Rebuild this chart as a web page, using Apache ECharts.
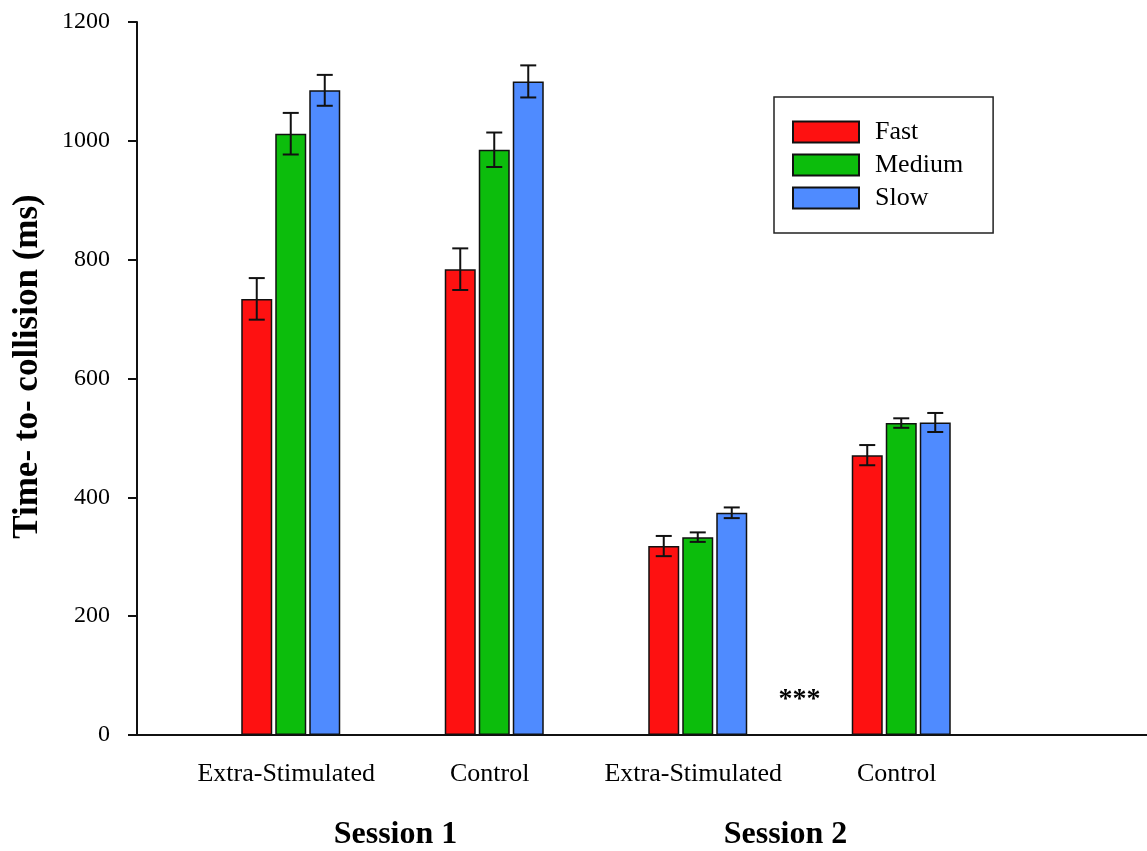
<!DOCTYPE html>
<html>
<head>
<meta charset="utf-8">
<title>Time-to-collision by session</title>
<script src="https://cdn.jsdelivr.net/npm/echarts@6/dist/echarts.min.js"></script>
<style>
  html, body { margin: 0; padding: 0; background: #fff; }
  #chart { width: 1147px; height: 851px; }
</style>
</head>
<body>
<div id="chart"></div>
<script>
// Groups along the x axis and the sessions they belong to
const categories = ['Extra-Stimulated', 'Control', 'Extra-Stimulated', 'Control'];
const sessions = ['Session 1', 'Session 2'];

// Mean time-to-collision (ms) and error (ms) per speed condition
const fast = [734, 784, 318, 471];
const fastErr = [35, 35, 17, 17];
const medium = [1012, 985, 333, 525];
const mediumErr = [35, 29, 8, 8];
const slow = [1085, 1100, 374, 526];
const slowErr = [26, 27, 9, 16];

const seriesNames = ['Fast', 'Medium', 'Slow'];

// Y axis range
const yMin = 0;
const yMax = 1200;
const yStep = 200;

// Significance marker between the two Session 2 groups: [fromGroup, toGroup, value]
const significance = [[2, 3, 60]];
const significanceText = '***';

const FONT = '"Liberation Serif", "Times New Roman", serif';
const colors = ['#fe1111', '#0cbd0c', '#4f8bff'];
const BAR_W = 31;
const BAR_STEP = 34;
const CAP_W = 16;

const chart = echarts.init(document.getElementById('chart'), null, { renderer: 'canvas' });

function errorSeries(means, errs, idx) {
  const offset = (idx - 1) * BAR_STEP;
  return {
    type: 'custom',
    name: seriesNames[idx] + ' error',
    xAxisIndex: 0,
    yAxisIndex: 0,
    z: 5,
    silent: true,
    data: means.map((m, i) => [i, m, errs[i]]),
    encode: { x: 0, y: 1 },
    renderItem: function (params, api) {
      const i = api.value(0), m = api.value(1), e = api.value(2);
      const top = api.coord([i, m + e]);
      const bot = api.coord([i, m - e]);
      const x = top[0] + offset;
      const style = { stroke: '#111', lineWidth: 2 };
      return {
        type: 'group',
        children: [
          { type: 'line', shape: { x1: x, y1: top[1], x2: x, y2: bot[1] }, style },
          { type: 'line', shape: { x1: x - CAP_W / 2, y1: top[1], x2: x + CAP_W / 2, y2: top[1] }, style },
          { type: 'line', shape: { x1: x - CAP_W / 2, y1: bot[1], x2: x + CAP_W / 2, y2: bot[1] }, style }
        ]
      };
    }
  };
}

function barSeries(values, idx) {
  return {
    type: 'bar',
    name: seriesNames[idx],
    xAxisIndex: 0,
    yAxisIndex: 0,
    data: values,
    barWidth: BAR_W,
    barGap: ((BAR_STEP - BAR_W) / BAR_W * 100).toFixed(1) + '%',
    itemStyle: { color: colors[idx], borderColor: '#111', borderWidth: 1.5 }
  };
}

const option = {
  backgroundColor: '#fff',
  animation: false,
  grid: [
    // bars
    { left: 189, width: 814, top: 22, height: 713, containLabel: false, outerBoundsMode: 'none' },
    // axis frame spanning the full plot
    { left: 137, right: 0, top: 22, height: 713, containLabel: false, outerBoundsMode: 'none' }
  ],
  legend: {
    data: seriesNames,
    orient: 'vertical',
    left: 774,
    top: 97,
    padding: [22, 30, 22, 18],
    itemWidth: 66,
    itemHeight: 21,
    itemGap: 7,
    icon: 'rect',
    borderColor: '#222',
    borderWidth: 1.5,
    textStyle: { fontFamily: FONT, fontSize: 26, color: '#000', padding: [0, 0, 0, 11] }
  },
  xAxis: [
    {
      type: 'category',
      gridIndex: 0,
      data: categories,
      axisLine: { show: false },
      axisTick: { show: false },
      axisLabel: {
        interval: 0,
        fontFamily: FONT, fontSize: 26, color: '#000', margin: 26,
        padding: [0, 9, 0, 0]
      }
    },
    {
      type: 'category',
      gridIndex: 0,
      position: 'bottom',
      data: sessions,
      axisLine: { show: false },
      axisTick: { show: false },
      axisLabel: {
        interval: 0,
        margin: 84,
        formatter: (v, i) => '{s' + i + '|' + v + '}',
        rich: {
          s0: { fontFamily: FONT, fontSize: 32, fontWeight: 'bold', color: '#000', padding: [0, 0, 0, 6] },
          s1: { fontFamily: FONT, fontSize: 32, fontWeight: 'bold', color: '#000', padding: [0, 28, 0, 0] }
        }
      }
    },
    {
      type: 'value',
      gridIndex: 1,
      min: 0,
      max: 1,
      axisLine: { show: true, lineStyle: { color: '#111', width: 2 } },
      axisTick: { show: false },
      axisLabel: { show: false },
      splitLine: { show: false }
    }
  ],
  yAxis: [
    {
      type: 'value',
      gridIndex: 0,
      min: yMin,
      max: yMax,
      interval: yStep,
      show: false
    },
    {
      type: 'value',
      gridIndex: 1,
      min: yMin,
      max: yMax,
      interval: yStep,
      name: 'Time- to- collision (ms)',
      nameLocation: 'middle',
      nameRotate: 90,
      nameGap: 92,
      nameTextStyle: {
        fontFamily: FONT, fontSize: 35, fontWeight: 'bold', color: '#000',
        padding: [0, 0, 0, 24]
      },
      axisLine: { show: true, lineStyle: { color: '#111', width: 2 } },
      axisTick: { show: true, inside: false, length: 9, lineStyle: { color: '#111', width: 2 } },
      axisLabel: {
        fontFamily: FONT, fontSize: 24, color: '#000', margin: 27,
        formatter: (v) => String(v)
      },
      splitLine: { show: false }
    }
  ],
  series: [
    barSeries(fast, 0),
    barSeries(medium, 1),
    barSeries(slow, 2),
    errorSeries(fast, fastErr, 0),
    errorSeries(medium, mediumErr, 1),
    errorSeries(slow, slowErr, 2),
    {
      type: 'custom',
      name: 'significance',
      xAxisIndex: 0,
      yAxisIndex: 0,
      silent: true,
      z: 6,
      data: significance,
      renderItem: function (params, api) {
        const a = api.coord([api.value(0), api.value(2)]);
        const b = api.coord([api.value(1), api.value(2)]);
        return {
          type: 'text',
          style: {
            text: significanceText,
            x: (a[0] + b[0]) / 2,
            y: a[1],
            align: 'center',
            verticalAlign: 'middle',
            fontFamily: FONT,
            fontWeight: 'bold',
            fontSize: 28,
            fill: '#000'
          }
        };
      }
    }
  ]
};

chart.setOption(option);
</script>
</body>
</html>
